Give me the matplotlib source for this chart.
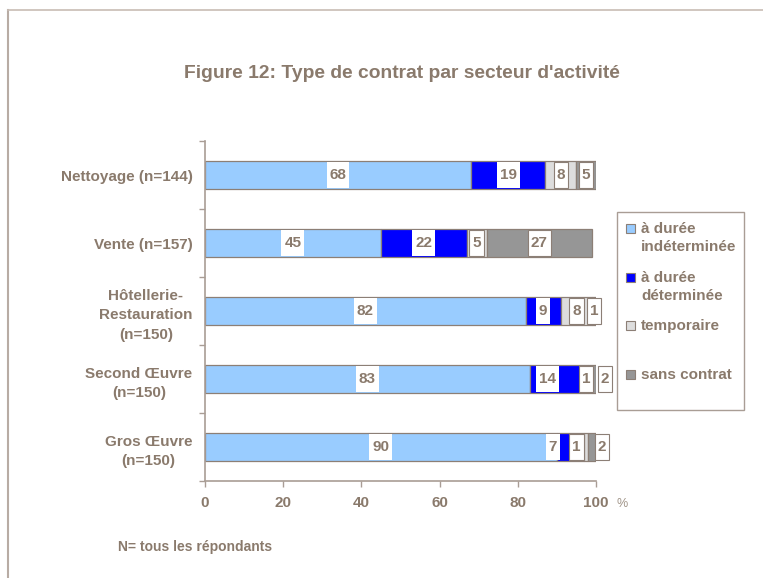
import matplotlib
matplotlib.use("Agg")
import matplotlib.pyplot as plt
from matplotlib.patches import Rectangle
from matplotlib.lines import Line2D
import numpy as np

plt.rcParams['font.family'] = ['Liberation Sans', 'DejaVu Sans']

# Data
sectors = ["Nettoyage (n=144)", "Vente (n=157)", "Hôtellerie-\nRestauration\n(n=150)",
           "Second Œuvre\n(n=150)", "Gros Œuvre\n(n=150)"]
series_names = ["à durée\nindéterminée", "à durée\ndéterminée", "temporaire", "sans contrat"]
cdi = [68, 45, 82, 83, 90]
cdd = [19, 22, 9, 14, 7]
temporaire = [8, 5, 8, 1, 1]
sans_contrat = [5, 27, 1, 2, 2]
x_ticks = [0, 20, 40, 60, 80, 100]

series = [cdi, cdd, temporaire, sans_contrat]
colors = ["#99CCFF", "#0000FF", "#DDDDDD", "#969696"]
boxed = [False, False, True, True]

TXT = "#8a7a6c"
EDGE = "#8c7f76"
AXC = "#a99d95"
FS = 11

fig = plt.figure(figsize=(7.63, 5.78), dpi=100)
ax = fig.add_axes([205/763, 1 - 481/578, (596 - 205)/763, (481 - 141)/578])

y = np.arange(len(sectors))
bar_h = 0.41
box_h = 0.38
left = np.zeros(len(sectors))

# Label nudges (data units) where neighbouring labels would collide
nudge = {(3, 1): -2.5, (3, 3): 3.3, (4, 1): -4.5, (4, 2): -2.5, (4, 3): 2.5}

labels = []
for k, (vals, col) in enumerate(zip(series, colors)):
    vals = np.array(vals, dtype=float)
    ax.barh(y, vals, left=left, height=bar_h, color=col, edgecolor=EDGE, linewidth=0.9, zorder=2)
    for i, v in enumerate(vals):
        cx = left[i] + v / 2 + nudge.get((i, k), 0)
        t = ax.text(cx, y[i], f"{int(v)}", ha="center", va="center", fontsize=FS,
                    fontweight="bold", color=TXT, zorder=5)
        labels.append((t, cx, y[i], boxed[k]))
    left += vals

ax.set_xlim(0, 100)
ax.set_ylim(len(sectors) - 0.5, -0.5)
ax.set_xticks(x_ticks)
ax.set_xticklabels([str(t) for t in x_ticks])
ax.set_yticks(y)
ax.set_yticklabels(sectors, multialignment="center", linespacing=1.5)
ax.set_yticks(np.arange(len(sectors) + 1) - 0.5, minor=True)

for s in ["top", "right"]:
    ax.spines[s].set_visible(False)
for s in ["left", "bottom"]:
    ax.spines[s].set_color(AXC)
    ax.spines[s].set_linewidth(1.2)

ax.tick_params(axis="y", which="major", length=0, pad=9, labelsize=FS, labelcolor=TXT)
ax.tick_params(axis="y", which="minor", length=4, color=AXC, width=1)
ax.tick_params(axis="x", which="major", length=4, color=AXC, width=1, pad=7,
               labelsize=FS, labelcolor=TXT)
for lab in ax.get_xticklabels() + ax.get_yticklabels():
    lab.set_fontweight("bold")

# White boxes behind the value labels, as tall as the bars
fig.canvas.draw()
renderer = fig.canvas.get_renderer()
inv = ax.transData.inverted()
for t, cx, cy, has_edge in labels:
    ext = t.get_window_extent(renderer)
    half_w_px = ext.width / 2 + 3
    px = ax.transData.transform((cx, cy))[0]
    x0 = inv.transform((px - half_w_px, 0))[0]
    x1 = inv.transform((px + half_w_px, 0))[0]
    ax.add_patch(Rectangle((x0, cy - box_h / 2), x1 - x0, box_h, facecolor="white",
                           edgecolor=EDGE if has_edge else "none", linewidth=0.8,
                           zorder=4, clip_on=False))

# "%" unit after the last x tick
fig.text(622/763, 1 - 504/578, "%", fontsize=9, color="#a09488", ha="center", va="center")

# Title
fig.text(402/763, 1 - 73/578, "Figure 12: Type de contrat par secteur d'activité",
         fontsize=13.9, fontweight="bold", color=TXT, ha="center", va="center")

# Footnote
fig.text(118/763, 1 - 547/578, "N= tous les répondants", fontsize=10, fontweight="bold",
         color=TXT, ha="left", va="center")

# Legend box
W, H = 763, 578
fig.add_artist(Rectangle((617/W, 1 - 410/H), (744 - 617)/W, (410 - 212)/H,
                         transform=fig.transFigure, facecolor="white", edgecolor=AXC,
                         linewidth=1.0))
item_y = [228, 277, 325, 374]
for name, col, yy in zip(series_names, colors, item_y):
    fig.add_artist(Rectangle((626/W, 1 - (yy + 5)/H), 9/W, 9/H, transform=fig.transFigure,
                             facecolor=col, edgecolor=EDGE, linewidth=0.8))
    fig.text(641/W, 1 - (yy - 6)/H, name, fontsize=FS, fontweight="bold", color=TXT,
             ha="left", va="top", linespacing=1.35)

# Frame lines along the left and top of the figure
fig.add_artist(Line2D([8/W, 8/W], [0, 1 - 10/H], transform=fig.transFigure,
                      color="#b8aca4", linewidth=1.5))
fig.add_artist(Line2D([8/W, 1], [1 - 10/H, 1 - 10/H], transform=fig.transFigure,
                      color="#c8bcb4", linewidth=1.2))

fig.savefig("out.png", dpi=100, facecolor="white")
